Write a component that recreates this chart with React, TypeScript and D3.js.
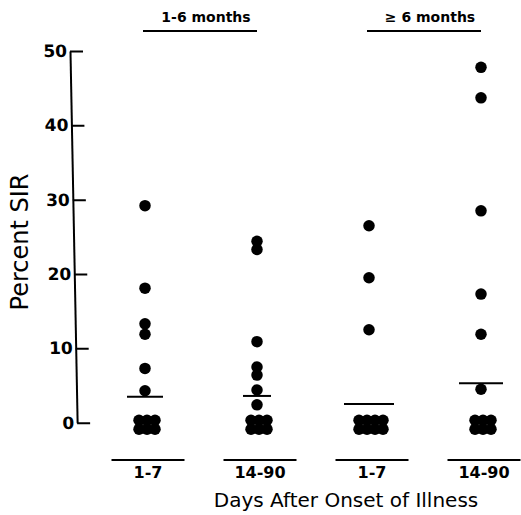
import React from "react";
import * as d3 from "d3";

// ---- data ----
const categories = ["g1", "g2", "g3", "g4"];
const categoryLabels = ["1-7", "14-90", "1-7", "14-90"];
const headerLabels = ["1-6 months", "\u2265 6 months"];
const yTicks = [0, 10, 20, 30, 40, 50];

const group1 = [29.2, 18.1, 13.3, 11.9, 7.3, 4.3, 0, 0, 0, 0, 0, 0];
const group2 = [24.4, 23.3, 10.9, 7.5, 6.4, 4.4, 2.4, 0, 0, 0, 0, 0, 0];
const group3 = [26.5, 19.5, 12.5, 0, 0, 0, 0, 0, 0, 0, 0];
const group4 = [47.8, 43.7, 28.5, 17.3, 11.9, 4.5, 0, 0, 0, 0, 0, 0];
const centralValues = [3.5, 3.6, 2.5, 5.3];

const groups = [group1, group2, group3, group4];

const W = 521;
const H = 515;
const FONT = "'DejaVu Sans', sans-serif";

function Axis({ scale }: { scale: d3.ScaleLinear<number, number> }) {
  const ref = React.useRef<SVGGElement>(null);
  React.useEffect(() => {
    if (!ref.current) return;
    const g = d3.select(ref.current);
    g.call(
      d3
        .axisLeft(scale)
        .tickValues(yTicks)
        .tickSizeInner(-13)
        .tickSizeOuter(0)
        .tickPadding(3)
        .tickFormat((d) => String(d))
    );
    g.selectAll("path, line").attr("stroke", "#000").attr("stroke-width", 2);
    g.selectAll("text")
      .attr("font-family", FONT)
      .attr("font-weight", "bold")
      .attr("font-size", 17)
      .attr("fill", "#000");
  }, [scale]);
  return <g ref={ref} transform="translate(69,0) skewX(1.1)" />;
}

export default function App() {
  const y = d3.scaleLinear().domain([0, 50]).range([422.7, 51]);
  const x = d3.scalePoint<string>().domain(categories).range([146, 482]);
  const r = 5.75;
  const meanHalf = [18, 14, 25, 22];

  return (
    <svg
      width={W}
      height={H}
      style={{ position: "absolute", left: 0, top: 0, background: "#fff" }}
    >
      <rect width={W} height={H} fill="#fff" />
      <Axis scale={y} />

      {/* y-axis title */}
      <text
        transform={`translate(28,${242}) rotate(-90)`}
        textAnchor="middle"
        fontFamily={FONT}
        fontSize={24}
        fill="#000"
      >
        Percent SIR
      </text>

      {/* header groups */}
      {headerLabels.map((lab, i) => {
        const x0 = x(categories[i * 2])!;
        const x1 = x(categories[i * 2 + 1])!;
        return (
          <g key={lab}>
            <line x1={x0 - 3} x2={x1 - 1} y1={31} y2={31} stroke="#000" strokeWidth={2} />
            <text
              x={(x0 + x1) / 2 + 4}
              y={22}
              textAnchor="middle"
              fontFamily={FONT}
              fontWeight="bold"
              fontSize={14}
              fill="#000"
            >
              {lab}
            </text>
          </g>
        );
      })}

      {groups.map((vals, gi) => {
        const cx = x(categories[gi])!;
        const nonZero = vals.filter((v) => v > 0);
        const zeros = vals.filter((v) => v === 0);
        const cols = Math.ceil(zeros.length / 2);
        return (
          <g key={gi}>
            {nonZero.map((v, i) => (
              <circle key={"n" + i} cx={cx - 1} cy={y(v)} r={r} fill="#000" />
            ))}
            {zeros.map((v, i) => {
              const col = i % cols;
              const row = Math.floor(i / cols);
              const zx = cx + 1 + (col - (cols - 1) / 2) * 8;
              const zy = y(v) - 2.5 + row * 9;
              return <circle key={"z" + i} cx={zx} cy={zy} r={r} fill="#000" />;
            })}
            <line
              x1={cx - 1 - meanHalf[gi]}
              x2={cx - 1 + meanHalf[gi]}
              y1={y(centralValues[gi])}
              y2={y(centralValues[gi])}
              stroke="#000"
              strokeWidth={2}
            />
            <line
              x1={cx + 2 - 36.5}
              x2={cx + 2 + 36.5}
              y1={460}
              y2={460}
              stroke="#000"
              strokeWidth={2}
            />
            <text
              x={cx + 2}
              y={478}
              textAnchor="middle"
              fontFamily={FONT}
              fontWeight="bold"
              fontSize={16}
              fill="#000"
            >
              {categoryLabels[gi]}
            </text>
          </g>
        );
      })}

      <text
        x={346}
        y={507}
        textAnchor="middle"
        fontFamily={FONT}
        fontSize={20}
        fill="#000"
      >
        Days After Onset of Illness
      </text>
    </svg>
  );
}
